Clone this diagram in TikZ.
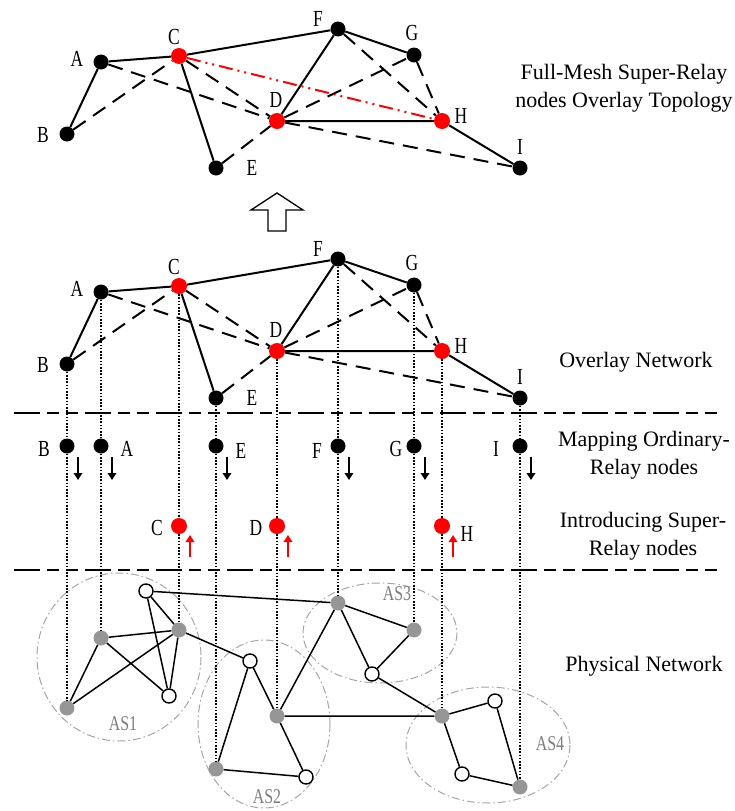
\documentclass[tikz,border=0pt]{standalone}
\usepackage{fontspec}
\setmainfont{Liberation Serif}
\newfontfamily\lblfont[FakeStretch=0.76]{Liberation Serif}
\usetikzlibrary{arrows.meta,calc}
\definecolor{physgray}{RGB}{150,150,150}
\definecolor{asgray}{RGB}{165,165,165}
\newcommand\ovgraph[1]{%
  \node[bn] (#1A) at (101,62) {};
  \node[bn] (#1B) at (67,134) {};
  \node[rn] (#1C) at (179,56) {};
  \node[rn] (#1D) at (277,121) {};
  \node[bn] (#1E) at (216,168) {};
  \node[bn] (#1F) at (338,29) {};
  \node[bn] (#1G) at (414,55) {};
  \node[rn] (#1H) at (442,121) {};
  \node[bn] (#1I) at (520,168) {};
  \node[lbl] (#1lA) at (77,59) {A};
  \node[lbl] (#1lB) at (43,135) {B};
  \node[lbl] (#1lC) at (174,37) {C};
  \node[lbl] (#1lD) at (276,100) {D};
  \node[lbl] (#1lE) at (252,168) {E};
  \node[lbl] (#1lF) at (318,19) {F};
  \node[lbl] (#1lG) at (412,33) {G};
  \node[lbl] (#1lH) at (461,116) {H};
  \node[lbl] (#1lI) at (520,147) {I};
  \draw[sol] (#1A)--(#1C) (#1C)--(#1F) (#1A)--(#1B) (#1C)--(#1E) (#1F)--(#1D)
    (#1D)--(#1H) (#1H)--(#1I) (#1F)--(#1G);
  \draw[dsh] (#1B)--(#1C) (#1A)--(#1D) (#1C)--(#1D) (#1E)--(#1D) (#1D)--(#1G)
    (#1F)--(#1H) (#1G)--(#1H) (#1D)--(#1I);
}
\begin{document}
\begin{tikzpicture}[x=1pt,y=-1pt,
  bn/.style={circle,fill=black,inner sep=0pt,minimum size=15pt},
  rn/.style={circle,fill=red,inner sep=0pt,minimum size=16pt},
  gn/.style={circle,fill=physgray,inner sep=0pt,minimum size=15pt},
  wn/.style={circle,draw=black,fill=white,line width=1.4pt,inner sep=0pt,minimum size=14pt},
  sol/.style={line width=2pt},
  dsh/.style={line width=2pt,dash pattern=on 15pt off 9pt},
  rdd/.style={red,line width=2pt,dash pattern=on 14pt off 5pt on 2pt off 5pt on 2pt off 5pt},
  dotl/.style={line width=1.6pt,dash pattern=on 1.6pt off 1.6pt},
  phl/.style={line width=1.5pt},
  asl/.style={asgray,line width=1pt,dash pattern=on 8pt off 3pt on 1.5pt off 3pt},
  lbl/.style={font=\lblfont\fontsize{23}{23}\selectfont,inner sep=0pt},
  asla/.style={font=\lblfont\fontsize{21}{21}\selectfont,inner sep=0pt,text=asgray!75!black},
  txt/.style={font=\fontsize{22}{28}\selectfont,align=center,inner sep=0pt},
  darr/.style={line width=2.6pt,-{Triangle[length=7pt,width=8.5pt]}},
  uarr/.style={red,line width=2.6pt,-{Triangle[length=7pt,width=8.5pt]}},
  hd/.style={line width=2pt,dash pattern=on 26pt off 7pt on 12pt off 7pt on 12pt off 7pt}
]
\useasboundingbox (0,0) rectangle (735,811);

% AS regions
\draw[asl] (119,657) ellipse [x radius=82, y radius=84];
\draw[asl] (264,724) ellipse [x radius=66, y radius=84];
\draw[asl] (380,633) ellipse [x radius=77, y radius=50];
\draw[asl] (488,745) ellipse [x radius=82, y radius=58];
\node[asla] (as1) at (123,724) {AS1};
\node[asla] (as2) at (267,797) {AS2};
\node[asla] (as3) at (397,594) {AS3};
\node[asla] (as4) at (550,744) {AS4};

% top overlay (full mesh)
\begin{scope}
\ovgraph{t}
\draw[rdd] (tC)--(tH);
\end{scope}

% big hollow arrow
\draw[line width=1.3pt,line join=miter] (277,193) -- (303,210) -- (286,210) -- (286,231) -- (268,231) -- (268,210) -- (251,210) -- cycle;

% middle overlay network
\begin{scope}[shift={(0,230)}]
\ovgraph{m}
\end{scope}

% separators
\coordinate (s1a) at (14,413); \coordinate (s1b) at (722,413);
\coordinate (s2a) at (14,570); \coordinate (s2b) at (722,570);
\draw[hd] (s1a) -- (s1b);
\draw[hd] (s2a) -- (s2b);

% mapping ordinary relay nodes
\node[bn] (qB) at (67,446) {};
\node[bn] (qA) at (101,446) {};
\node[bn] (qE) at (216,446) {};
\node[bn] (qF) at (338,446) {};
\node[bn] (qG) at (414,446) {};
\node[bn] (qI) at (520,446) {};
\node[lbl] (lqB) at (44,449) {B};
\node[lbl] (lqA) at (127,449) {A};
\node[lbl] (lqE) at (241,451) {E};
\node[lbl] (lqF) at (317,451) {F};
\node[lbl] (lqG) at (396,449) {G};
\node[lbl] (lqI) at (496,449) {I};

% introducing super relay nodes
\node[rn] (rC) at (179,526) {};
\node[rn] (rD) at (277,526) {};
\node[rn] (rH) at (442,526) {};
\node[lbl] (lrC) at (157,528) {C};
\node[lbl] (lrD) at (256,528) {D};
\node[lbl] (lrH) at (467,534) {H};

% physical network
\node[gn] (pA) at (101,638) {};
\node[gn] (pB) at (67,708) {};
\node[gn] (pC) at (179,630) {};
\node[gn] (pD) at (277,716) {};
\node[gn] (pE) at (216,769) {};
\node[gn] (pF) at (338,603) {};
\node[gn] (pG) at (414,630) {};
\node[gn] (pH) at (442,716) {};
\node[gn] (pI) at (520,787) {};
\node[wn] (w1) at (146,591) {};
\node[wn] (w2) at (169,696) {};
\node[wn] (w3) at (250,661) {};
\node[wn] (w4) at (306,777) {};
\node[wn] (w5) at (372,674) {};
\node[wn] (w6) at (495,701) {};
\node[wn] (w7) at (462,774) {};
\draw[phl] (w1)--(pF) (w1)--(pC) (w1)--(w2) (pA)--(pC) (pA)--(pB) (pA)--(w2)
  (pB)--(pC) (pC)--(w2) (pC)--(w3) (w3)--(pD) (w3)--(pE) (pE)--(w4) (pD)--(w4)
  (pD)--(pF) (pD)--(pH) (pF)--(pG) (pF)--(w5) (w5)--(pG) (w5)--(pH)
  (pH)--(w6) (pH)--(w7) (w6)--(pI) (w7)--(pI);

% vertical dotted mapping lines
\draw[dotl] (mB)--(qB) (qB)--(pB);
\draw[dotl] (mA)--(qA) (qA)--(pA);
\draw[dotl] (mE)--(qE) (qE)--(pE);
\draw[dotl] (mF)--(qF) (qF)--(pF);
\draw[dotl] (mG)--(qG) (qG)--(pG);
\draw[dotl] (mI)--(qI) (qI)--(pI);
\draw[dotl] (mC)--(rC) (rC)--(pC);
\draw[dotl] (mD)--(rD) (rD)--(pD);
\draw[dotl] (mH)--(rH) (rH)--(pH);

% small arrows
\foreach \n in {qB,qA,qE,qF,qG,qI}{
  \draw[darr] ($(\n)+(11,11)$) -- ($(\n)+(11,34)$);
}
\foreach \n in {rC,rD,rH}{
  \draw[uarr] ($(\n)+(11,31)$) -- ($(\n)+(11,9)$);
}

% right-hand texts
\node[txt] (t1) at (624,88) {Full-Mesh Super-Relay\\nodes Overlay Topology};
\node[txt] (t2) at (636,362) {Overlay Network};
\node[txt] (t3) at (644,455) {Mapping Ordinary-\\Relay nodes};
\node[txt] (t4) at (643,536) {Introducing Super-\\Relay nodes};
\node[txt] (t5) at (644,666) {Physical Network};
\end{tikzpicture}
\end{document}
